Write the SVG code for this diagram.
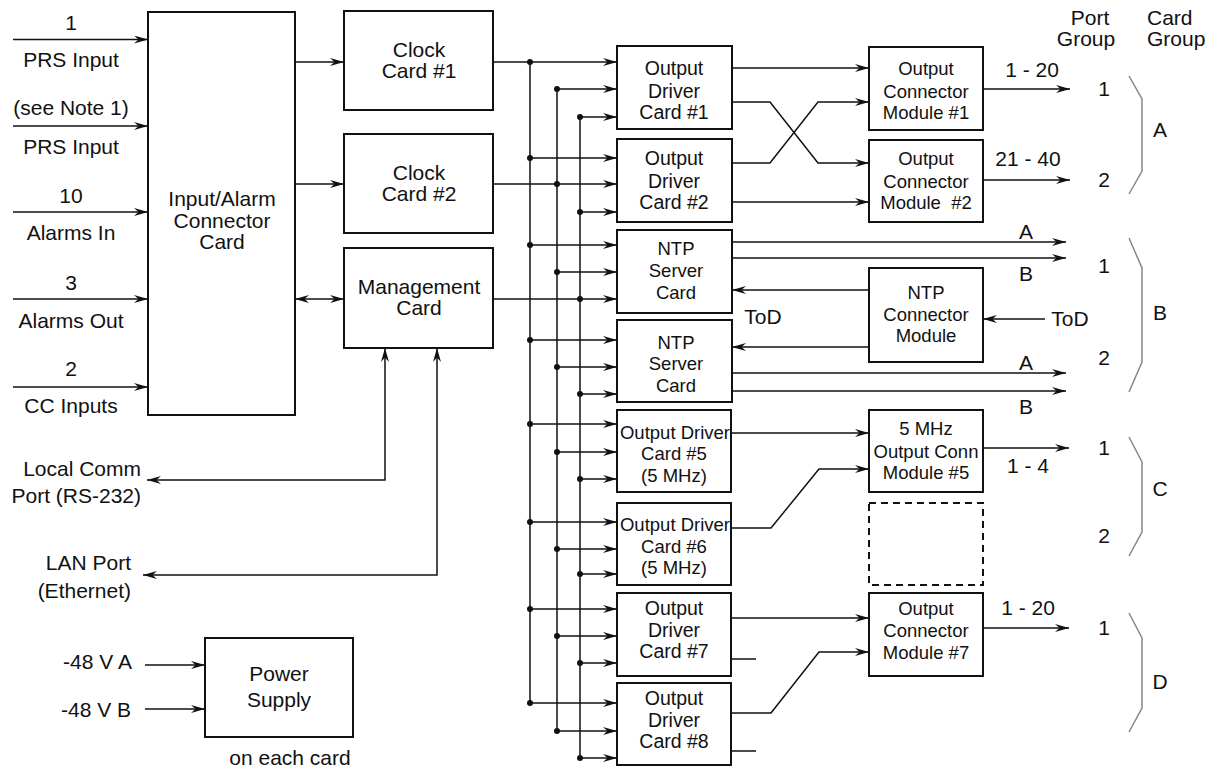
<svg xmlns="http://www.w3.org/2000/svg" width="1211" height="769" viewBox="0 0 1211 769">
<style>
text{font-family:"Liberation Sans",Arial,sans-serif;fill:#111;text-anchor:middle;font-size:21px}
.s{font-size:18.5px}
.m{font-size:19.5px}
.e{text-anchor:end}
.st{text-anchor:start}
.box{fill:#fff;stroke:#111;stroke-width:2}
.dash{fill:none;stroke:#111;stroke-width:2;stroke-dasharray:7,5}
.c{fill:none;stroke:#111;stroke-width:1.5}
.a{marker-end:url(#ah)}
.aa{marker-start:url(#ah);marker-end:url(#ah)}
.br{fill:none;stroke:#888;stroke-width:1.5}
</style>
<defs>
<marker id="ah" viewBox="0 0 14 8" refX="14" refY="4" markerWidth="14" markerHeight="8" markerUnits="userSpaceOnUse" orient="auto-start-reverse"><path d="M0,0 L14,4 L0,8 L4.5,4 z" fill="#111"/></marker>
</defs>
<rect width="1211" height="769" fill="#fff"/>
<g id="connectors">
<path class="c a" d="M13,39.5 H148"/>
<path class="c a" d="M13,126 H148"/>
<path class="c a" d="M13,212 H148"/>
<path class="c a" d="M13,299 H148"/>
<path class="c a" d="M13,387 H148"/>
<path class="c a" d="M295,62 H344"/>
<path class="c a" d="M295,184 H344"/>
<path class="c aa" d="M295,299 H344"/>
<path class="c aa" d="M147,480 H385 V348"/>
<path class="c aa" d="M143,575 H437 V348"/>
<path class="c a" d="M145,665 H205"/>
<path class="c a" d="M145,709 H205"/>
<path class="c a" d="M493,62 H617"/>
<path class="c a" d="M493,184 H617"/>
<path class="c a" d="M493,299 H617"/>
<path class="c" d="M530,62 V703"/>
<path class="c" d="M557,89 V731"/>
<path class="c" d="M580,117 V758"/>
<g fill="#111">
<circle cx="530" cy="62" r="3"/><circle cx="530" cy="158" r="3"/><circle cx="530" cy="245" r="3"/><circle cx="530" cy="340" r="3"/><circle cx="530" cy="424" r="3"/><circle cx="530" cy="522" r="3"/><circle cx="530" cy="609" r="3"/><circle cx="530" cy="703" r="3"/>
<circle cx="557" cy="89" r="3"/><circle cx="557" cy="184" r="3"/><circle cx="557" cy="272" r="3"/><circle cx="557" cy="367" r="3"/><circle cx="557" cy="452" r="3"/><circle cx="557" cy="549" r="3"/><circle cx="557" cy="636" r="3"/><circle cx="557" cy="731" r="3"/>
<circle cx="580" cy="117" r="3"/><circle cx="580" cy="212" r="3"/><circle cx="580" cy="299" r="3"/><circle cx="580" cy="394" r="3"/><circle cx="580" cy="479" r="3"/><circle cx="580" cy="574" r="3"/><circle cx="580" cy="663" r="3"/><circle cx="580" cy="758" r="3"/>
</g>
<path class="c a" d="M530,158 H617"/><path class="c a" d="M530,245 H617"/><path class="c a" d="M530,340 H617"/><path class="c a" d="M530,424 H617"/><path class="c a" d="M530,522 H617"/><path class="c a" d="M530,609 H617"/><path class="c a" d="M530,703 H617"/>
<path class="c a" d="M557,89 H617"/><path class="c a" d="M557,272 H617"/><path class="c a" d="M557,367 H617"/><path class="c a" d="M557,452 H617"/><path class="c a" d="M557,549 H617"/><path class="c a" d="M557,636 H617"/><path class="c a" d="M557,731 H617"/>
<path class="c a" d="M580,117 H617"/><path class="c a" d="M580,212 H617"/><path class="c a" d="M580,394 H617"/><path class="c a" d="M580,479 H617"/><path class="c a" d="M580,574 H617"/><path class="c a" d="M580,663 H617"/><path class="c a" d="M580,758 H617"/>
<path class="c a" d="M732,68 H869"/>
<path class="c a" d="M732,102 H770 L818,163 H869"/>
<path class="c a" d="M732,163 H770 L818,102 H869"/>
<path class="c a" d="M732,202 H869"/>
<path class="c a" d="M983,89 H1070"/>
<path class="c a" d="M983,180 H1070"/>
<path class="c a" d="M732,242 H1066"/>
<path class="c a" d="M732,258 H1066"/>
<path class="c a" d="M869,290 H732"/>
<path class="c a" d="M869,347 H732"/>
<path class="c a" d="M1045,319 H983"/>
<path class="c a" d="M732,373 H1066"/>
<path class="c a" d="M732,391 H1066"/>
<path class="c a" d="M731,433 H869"/>
<path class="c a" d="M731,528 H771 L819,469 H869"/>
<path class="c a" d="M983,448 H1069"/>
<path class="c a" d="M731,618 H869"/>
<path class="c" d="M731,659 H756"/>
<path class="c a" d="M731,713 H771 L819,652 H869"/>
<path class="c" d="M731,751 H756"/>
<path class="c a" d="M983,628 H1069"/>
<path class="br" d="M1129,76 L1142,99 V171 L1129,194"/>
<path class="br" d="M1129,238 L1142,268 V362 L1129,392"/>
<path class="br" d="M1129,437 L1142,462 V532 L1129,556"/>
<path class="br" d="M1129,613 L1142,638 V708 L1129,732"/>
</g>
<g id="labels">
<text x="71" y="30">1</text><text x="71" y="67">PRS Input</text>
<text x="71" y="115">(see Note 1)</text><text x="71" y="154">PRS Input</text>
<text x="71" y="203">10</text><text x="71" y="240">Alarms In</text>
<text x="71" y="290">3</text><text x="71" y="328">Alarms Out</text>
<text x="71" y="376">2</text><text x="71" y="413">CC Inputs</text>
<text class="e" x="141" y="476">Local Comm</text><text class="e" x="141" y="503">Port (RS-232)</text>
<text class="e" x="131" y="570">LAN Port</text><text class="e" x="131" y="598">(Ethernet)</text>
<text class="e" x="132" y="669">-48 V A</text><text class="e" x="131" y="717">-48 V B</text>
<text x="290" y="765">on each card</text>
<text x="763" y="324">ToD</text>
<text x="1090" y="25">Port</text><text x="1086" y="46">Group</text>
<text class="st" x="1147" y="25">Card</text><text class="st" x="1147" y="46">Group</text>
<text x="1032" y="77">1 - 20</text><text x="1104" y="96">1</text>
<text x="1028" y="166">21 - 40</text><text x="1104" y="187">2</text>
<text x="1160" y="137">A</text>
<text x="1026" y="239">A</text><text x="1026" y="281">B</text><text x="1104" y="273">1</text>
<text x="1070" y="326">ToD</text><text x="1160" y="320">B</text>
<text x="1104" y="365">2</text><text x="1026" y="370">A</text><text x="1026" y="414">B</text>
<text x="1028" y="473">1 - 4</text><text x="1104" y="455">1</text><text x="1104" y="543">2</text>
<text x="1160" y="496">C</text>
<text x="1028" y="615">1 - 20</text><text x="1104" y="635">1</text>
<text x="1160" y="689">D</text>
</g>
<g id="input-alarm"><rect class="box" x="148" y="12" width="147" height="403"/><text x="222" y="206">Input/Alarm</text><text x="222" y="228">Connector</text><text x="222" y="249">Card</text></g>
<g id="clock1"><rect class="box" x="344" y="11" width="149" height="99"/><text x="419" y="57">Clock</text><text x="419" y="78">Card #1</text></g>
<g id="clock2"><rect class="box" x="344" y="134" width="149" height="99"/><text x="419" y="180">Clock</text><text x="419" y="201">Card #2</text></g>
<g id="mgmt"><rect class="box" x="344" y="248" width="149" height="100"/><text x="419" y="294">Management</text><text x="419" y="315">Card</text></g>
<g id="power"><rect class="box" x="205" y="638" width="148" height="99"/><text x="279" y="681">Power</text><text x="279" y="707">Supply</text></g>
<g id="od1"><rect class="box" x="617" y="46" width="115" height="83"/><text class="m" x="674" y="75">Output</text><text class="m" x="674" y="98">Driver</text><text class="m" x="674" y="119">Card #1</text></g>
<g id="od2"><rect class="box" x="617" y="139" width="115" height="83"/><text class="m" x="674" y="165">Output</text><text class="m" x="674" y="188">Driver</text><text class="m" x="674" y="209">Card #2</text></g>
<g id="ntp1"><rect class="box" x="617" y="230" width="115" height="83"/><text class="s" x="676" y="255">NTP</text><text class="s" x="676" y="277">Server</text><text class="s" x="676" y="299">Card</text></g>
<g id="ntp2"><rect class="box" x="617" y="320" width="115" height="82"/><text class="s" x="676" y="349">NTP</text><text class="s" x="676" y="370">Server</text><text class="s" x="676" y="392">Card</text></g>
<g id="od5"><rect class="box" x="617" y="410" width="114" height="82"/><text class="s" x="675" y="439">Output Driver</text><text class="s" x="674" y="460">Card #5</text><text class="s" x="674" y="482">(5 MHz)</text></g>
<g id="od6"><rect class="box" x="617" y="503" width="114" height="82"/><text class="s" x="675" y="531">Output Driver</text><text class="s" x="674" y="553">Card #6</text><text class="s" x="674" y="574">(5 MHz)</text></g>
<g id="od7"><rect class="box" x="617" y="593" width="114" height="83"/><text class="m" x="674" y="615">Output</text><text class="m" x="674" y="637">Driver</text><text class="m" x="674" y="658">Card #7</text></g>
<g id="od8"><rect class="box" x="617" y="683" width="114" height="82"/><text class="m" x="674" y="705">Output</text><text class="m" x="674" y="727">Driver</text><text class="m" x="674" y="748">Card #8</text></g>
<g id="ocm1"><rect class="box" x="869" y="47" width="114" height="83"/><text class="s" x="926" y="75">Output</text><text class="s" x="926" y="98">Connector</text><text class="s" x="926" y="119">Module #1</text></g>
<g id="ocm2"><rect class="box" x="869" y="140" width="114" height="82"/><text class="s" x="926" y="165">Output</text><text class="s" x="926" y="188">Connector</text><text class="s" x="926" y="209" xml:space="preserve">Module  #2</text></g>
<g id="ntpconn"><rect class="box" x="869" y="268" width="114" height="94"/><text class="s" x="926" y="299">NTP</text><text class="s" x="926" y="321">Connector</text><text class="s" x="926" y="342">Module</text></g>
<g id="m5"><rect class="box" x="869" y="410" width="114" height="82"/><text class="s" x="926" y="435">5 MHz</text><text class="s" x="926" y="458">Output Conn</text><text class="s" x="926" y="479">Module #5</text></g>
<g id="empty"><rect class="dash" x="869" y="503" width="114" height="82"/></g>
<g id="m7"><rect class="box" x="869" y="593" width="114" height="83"/><text class="s" x="926" y="615">Output</text><text class="s" x="926" y="637">Connector</text><text class="s" x="926" y="659">Module #7</text></g>
</svg>
